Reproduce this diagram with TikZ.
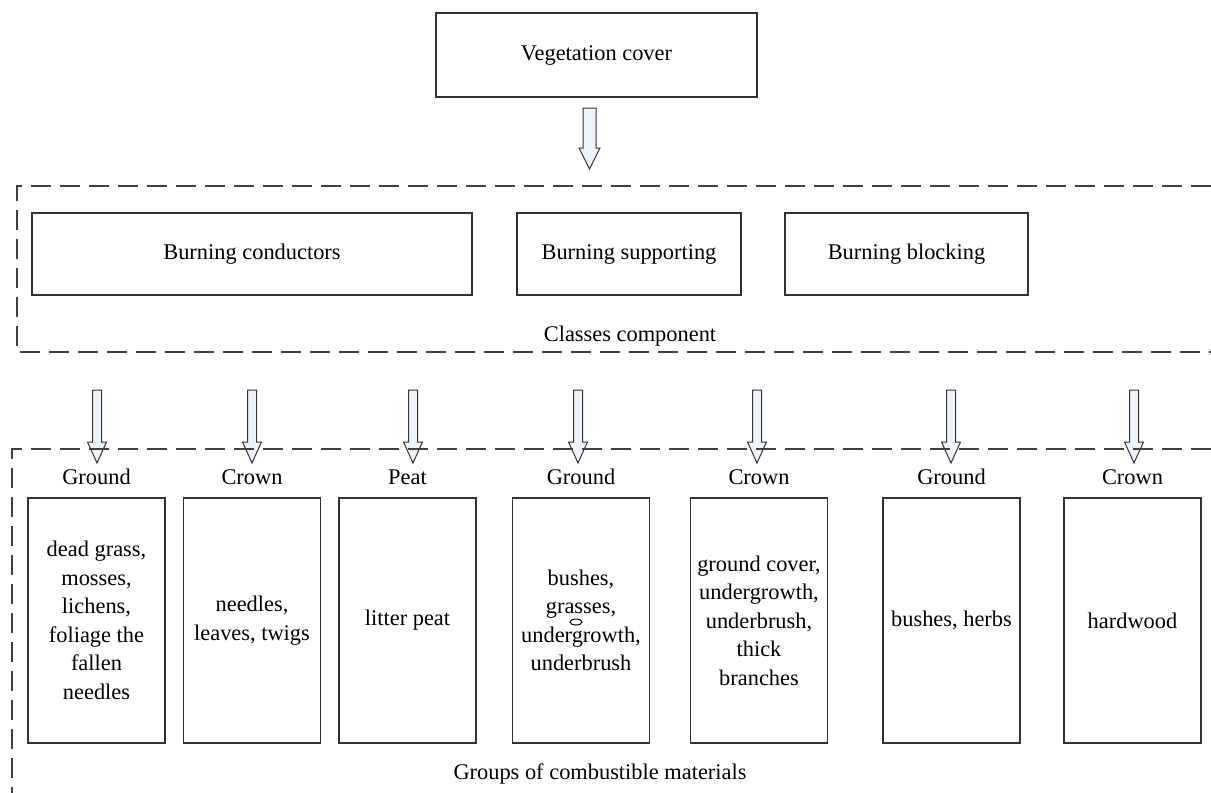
\documentclass[tikz,border=0pt]{standalone}
\usepackage{fontspec}
\setmainfont{Liberation Serif}
\usetikzlibrary{positioning}

\tikzset{
  box/.style={draw=black!80, line width=0.6pt, inner sep=0pt, align=center,
    font=\fontsize{11.2}{14.25}\selectfont},
  txt/.style={inner sep=0pt, font=\fontsize{11.2}{13}\selectfont},
  dashline/.style={draw=black!75, line width=0.6pt, dash pattern=on 10pt off 4.5pt},
  arrowfill/.style={draw=black!80, line width=0.5pt, fill={rgb,255:red,238;green,242;blue,250}},
  pics/blockarrow/.style n args={4}{code={
    \draw[arrowfill] (-#1,0) -- (-#1,#3) -- (-#2,#3) -- (0,#4) -- (#2,#3) -- (#1,#3) -- (#1,0) -- cycle;
  }},
}

\begin{document}
\begin{tikzpicture}[x=0.5pt, y=-0.5pt]
  \useasboundingbox (0,0) rectangle (1211,793);

  % top
  \node[box, minimum width=160.5pt, minimum height=42pt] (veg) at (596.5,55) {Vegetation cover};
  \coordinate (va) at (589.5,108);
  \pic at (va) {blockarrow={6.5}{10.5}{40}{61}};

  % classes component
  \draw[dashline] (1211,186) -- (17,186) -- (17,352) -- (1211,352);
  \node[box, minimum width=220pt, minimum height=41pt] (cond) at (252,254) {Burning conductors};
  \node[box, minimum width=112pt, minimum height=41pt] (supp) at (629,254) {Burning supporting};
  \node[box, minimum width=121.5pt, minimum height=41pt] (blck) at (906.5,254) {Burning blocking};
  \node[txt] (classes) at (630,336) {Classes component};

  % arrows down to the groups
  \coordinate (a1) at (97,390);
  \coordinate (a2) at (252,390);
  \coordinate (a3) at (413,390);
  \coordinate (a4) at (578,390);
  \coordinate (a5) at (757,390);
  \coordinate (a6) at (951,390);
  \coordinate (a7) at (1134,390);
  \pic at (a1) {blockarrow={4.5}{9.5}{52}{73}};
  \pic at (a2) {blockarrow={4.5}{9.5}{52}{73}};
  \pic at (a3) {blockarrow={4.5}{9.5}{52}{73}};
  \pic at (a4) {blockarrow={4.5}{9.5}{52}{73}};
  \pic at (a5) {blockarrow={4.5}{9.5}{52}{73}};
  \pic at (a6) {blockarrow={4.5}{9.5}{52}{73}};
  \pic at (a7) {blockarrow={4.5}{9.5}{52}{73}};

  % groups of combustible materials
  \draw[dashline] (1211,449) -- (12,449) -- (12,793);
  \node[box, minimum width=68.5pt, minimum height=122.5pt] (m1) at (96.5,620.5) {dead grass,\\mosses,\\lichens,\\foliage the\\fallen\\needles};
  \node[box, minimum width=68.5pt, minimum height=122.5pt] (m2) at (252,620.5) {needles,\\leaves, twigs};
  \node[box, minimum width=68.5pt, minimum height=122.5pt] (m3) at (407.5,620.5) {litter peat};
  \node[box, minimum width=68.5pt, minimum height=122.5pt] (m4) at (581,620.5) {bushes,\\grasses,\\undergrowth,\\underbrush};
  \node[box, minimum width=68.5pt, minimum height=122.5pt] (m5) at (759,620.5) {ground cover,\\undergrowth,\\underbrush,\\thick\\branches};
  \node[box, minimum width=68.5pt, minimum height=122.5pt] (m6) at (951.5,620.5) {bushes, herbs};
  \node[box, minimum width=68.5pt, minimum height=122.5pt] (m7) at (1132.5,620.5) {hardwood};
  \draw[line width=0.5pt] (576,622) ellipse (3pt and 1.5pt);

  \node[txt, above=6pt of m1] (g1) {Ground};
  \node[txt, above=6pt of m2] (g2) {Crown};
  \node[txt, above=6pt of m3] (g3) {Peat};
  \node[txt, above=6pt of m4] (g4) {Ground};
  \node[txt, above=6pt of m5] (g5) {Crown};
  \node[txt, above=6pt of m6] (g6) {Ground};
  \node[txt, above=6pt of m7] (g7) {Crown};

  \node[txt] (groups) at (600,774) {Groups of combustible materials};
\end{tikzpicture}
\end{document}
